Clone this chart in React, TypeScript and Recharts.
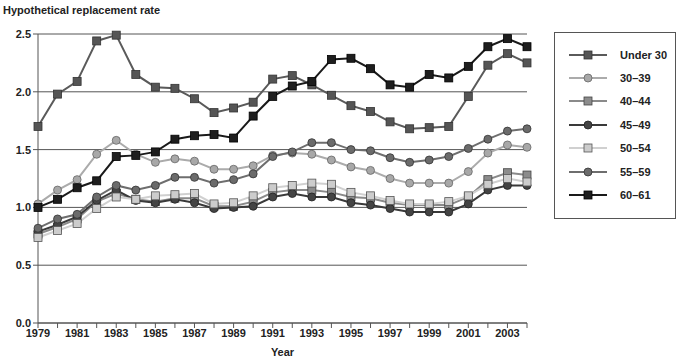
import React from "react";
import {
  LineChart,
  Line,
  XAxis,
  YAxis,
  CartesianGrid,
  Legend,
} from "recharts";

const years = [
  1979, 1980, 1981, 1982, 1983, 1984, 1985, 1986, 1987, 1988, 1989, 1990, 1991,
  1992, 1993, 1994, 1995, 1996, 1997, 1998, 1999, 2000, 2001, 2002, 2003, 2004,
];

const under30 = [1.70, 1.98, 2.09, 2.44, 2.49, 2.15, 2.04, 2.03, 1.94, 1.82, 1.86, 1.91, 2.11, 2.14, 2.06, 1.97, 1.88, 1.83, 1.74, 1.68, 1.69, 1.70, 1.96, 2.23, 2.33, 2.25];
const age30to39 = [1.03, 1.15, 1.24, 1.46, 1.58, 1.46, 1.39, 1.42, 1.40, 1.33, 1.33, 1.36, 1.45, 1.47, 1.46, 1.41, 1.35, 1.32, 1.25, 1.21, 1.21, 1.21, 1.31, 1.47, 1.54, 1.52];
const age40to44 = [0.77, 0.83, 0.90, 1.05, 1.12, 1.07, 1.05, 1.08, 1.08, 1.01, 1.01, 1.05, 1.13, 1.15, 1.15, 1.13, 1.09, 1.08, 1.04, 1.02, 1.02, 1.02, 1.09, 1.24, 1.30, 1.28];
const age45to49 = [0.79, 0.85, 0.92, 1.06, 1.15, 1.06, 1.04, 1.07, 1.04, 0.99, 1.00, 1.01, 1.09, 1.12, 1.09, 1.09, 1.04, 1.02, 0.99, 0.96, 0.96, 0.96, 1.03, 1.15, 1.19, 1.19];
const age50to54 = [0.74, 0.80, 0.86, 0.99, 1.09, 1.07, 1.10, 1.11, 1.12, 1.03, 1.04, 1.10, 1.17, 1.19, 1.21, 1.20, 1.13, 1.10, 1.06, 1.03, 1.03, 1.05, 1.10, 1.20, 1.25, 1.22];
const age55to59 = [0.82, 0.90, 0.94, 1.09, 1.19, 1.15, 1.19, 1.26, 1.26, 1.21, 1.24, 1.29, 1.44, 1.48, 1.56, 1.56, 1.50, 1.49, 1.43, 1.39, 1.41, 1.44, 1.51, 1.59, 1.66, 1.68];
const age60to61 = [1.00, 1.07, 1.17, 1.23, 1.44, 1.45, 1.48, 1.59, 1.62, 1.63, 1.60, 1.79, 1.96, 2.05, 2.09, 2.28, 2.29, 2.20, 2.06, 2.04, 2.15, 2.12, 2.22, 2.39, 2.46, 2.39];

const yTicks = [0, 0.5, 1.0, 1.5, 2.0, 2.5];

const series = [
  { key: "u30", name: "Under 30", values: under30, line: "#5a5a5a", fill: "#555555", edge: "#333333", shape: "square" },
  { key: "a30", name: "30\u201339", values: age30to39, line: "#ababab", fill: "#a8a8a8", edge: "#666666", shape: "circle" },
  { key: "a40", name: "40\u201344", values: age40to44, line: "#8a8a8a", fill: "#8c8c8c", edge: "#444444", shape: "square" },
  { key: "a45", name: "45\u201349", values: age45to49, line: "#3a3a3a", fill: "#444444", edge: "#222222", shape: "circle" },
  { key: "a50", name: "50\u201354", values: age50to54, line: "#d0d0d0", fill: "#cccccc", edge: "#555555", shape: "square" },
  { key: "a55", name: "55\u201359", values: age55to59, line: "#6e6e6e", fill: "#6b6b6b", edge: "#333333", shape: "circle" },
  { key: "a60", name: "60\u201361", values: age60to61, line: "#1a1a1a", fill: "#1e1e1e", edge: "#000000", shape: "square" },
];

const data = years.map((year, i) => {
  const row: Record<string, number> = { year };
  series.forEach((s) => {
    row[s.key] = s.values[i];
  });
  return row;
});

const FONT = "'Liberation Sans', Arial, sans-serif";

function makeDot(shape: string, fill: string, edge: string) {
  return (props: any) => {
    const { cx, cy, index } = props;
    if (cx == null || cy == null) return <g key={index} />;
    if (shape === "square") {
      return (
        <rect
          key={index}
          x={cx - 4}
          y={cy - 4}
          width={8}
          height={8}
          fill={fill}
          stroke={edge}
          strokeWidth={0.8}
        />
      );
    }
    return <circle key={index} cx={cx} cy={cy} r={4} fill={fill} stroke={edge} strokeWidth={0.8} />;
  };
}

function LegendBox() {
  return (
    <div
      style={{
        width: 122,
        height: 187,
        border: "1px solid #555",
        boxSizing: "border-box",
        paddingTop: 10,
        fontFamily: FONT,
        fontWeight: "bold",
        fontSize: 11,
        color: "#222",
        background: "#fff",
      }}
    >
      {series.map((s) => (
        <div key={s.key} style={{ height: 23.4, display: "flex", alignItems: "center" }}>
          <svg width={54} height={12} style={{ marginLeft: 13, display: "block" }}>
            <line x1={1} y1={6} x2={39} y2={6} stroke={s.line} strokeWidth={2} />
            {s.shape === "square" ? (
              <rect x={16} y={2} width={8} height={8} fill={s.fill} stroke={s.edge} strokeWidth={0.8} />
            ) : (
              <circle cx={20} cy={6} r={4} fill={s.fill} stroke={s.edge} strokeWidth={0.8} />
            )}
          </svg>
          <span style={{ marginLeft: -2 }}>{s.name}</span>
        </div>
      ))}
    </div>
  );
}

export default function App() {
  return (
    <div style={{ position: "absolute", left: 0, top: 0, width: 699, height: 361, background: "#fff" }}>
      <div
        style={{
          position: "absolute",
          left: 3,
          top: 4,
          fontFamily: FONT,
          fontWeight: "bold",
          fontSize: 11,
          color: "#222",
        }}
      >
        Hypothetical replacement rate
      </div>
      <LineChart
        width={699}
        height={361}
        data={data}
        margin={{ top: 34, right: 172, bottom: 0, left: 0 }}
      >
        <CartesianGrid vertical={false} stroke="#555" strokeWidth={1} />
        <XAxis
          dataKey="year"
          type="number"
          domain={[1979, 2004]}
          ticks={years}
          interval={0}
          height={38}
          stroke="#555"
          tickSize={5}
          tickFormatter={(v: number) => (v % 2 === 1 && v <= 2003 ? String(v) : "")}
          tick={{ fill: "#222", fontSize: 11, fontWeight: "bold", fontFamily: FONT }}
          tickMargin={1}
          label={{
            value: "Year",
            position: "insideBottom",
            offset: 5,
            style: { fill: "#222", fontSize: 11, fontWeight: "bold", fontFamily: FONT },
          }}
        />
        <YAxis
          type="number"
          domain={[0, 2.5]}
          ticks={yTicks}
          width={38}
          stroke="#555"
          tickSize={5}
          tickMargin={2}
          tickFormatter={(v: number) => v.toFixed(1)}
          tick={{ fill: "#222", fontSize: 11, fontWeight: "bold", fontFamily: FONT }}
        />
        <Legend
          layout="vertical"
          align="center"
          verticalAlign="middle"
          content={() => <LegendBox />}
          wrapperStyle={{ position: "absolute", left: 554, top: 32, width: 122, height: 187 }}
        />
        {series.map((s) => (
          <Line
            key={s.key}
            dataKey={s.key}
            name={s.name}
            type="linear"
            stroke={s.line}
            strokeWidth={2}
            dot={makeDot(s.shape, s.fill, s.edge)}
            activeDot={false}
            isAnimationActive={false}
          />
        ))}
      </LineChart>
    </div>
  );
}
